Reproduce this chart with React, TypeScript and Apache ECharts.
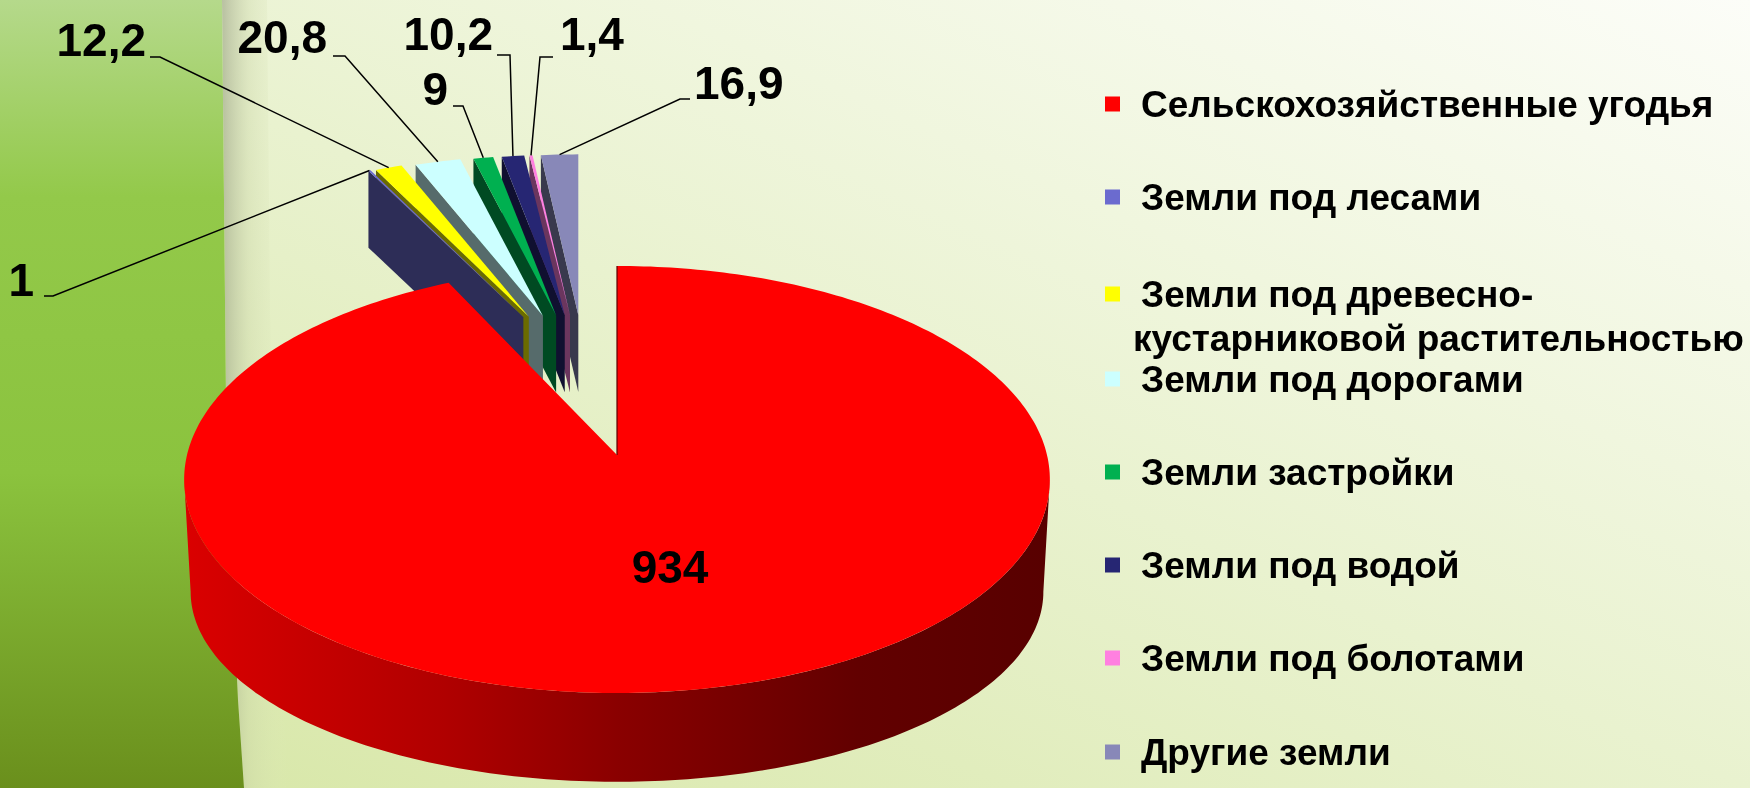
import React, { useEffect, useRef } from 'react';
import * as echarts from 'echarts';

// ---------- data ----------
const CATEGORIES = [
  'Сельскохозяйственные угодья',
  'Земли под лесами',
  'Земли под древесно-кустарниковой растительностью',
  'Земли под дорогами',
  'Земли застройки',
  'Земли под водой',
  'Земли под болотами',
  'Другие земли',
];
const VALUES = [934, 1, 12.2, 20.8, 9, 10.2, 1.4, 16.9];

// ---------- style ----------
const COLORS = ['#ff0000', '#6b6bcf', '#ffff00', '#ccffff', '#00b050', '#262673', '#ff80e0', '#8888b8'];
const FONT = '"Liberation Sans", Arial, sans-serif';

// 3D pie projection (top face ellipse with perspective)
const CX = 617;
const CY = 455;
const RX = 430;
const RY = 210.7;
const PERSP = 8.72;
// bottom rim ellipse
const CYB = 570;
const BX = 0.985;
const BY = 0.89;
// exploded small slices
const KX = 0.92;
const KY = 0.85;
const SMALL_DEPTH = 77;
const EXP = { ox: -31, oy: -119, ex: 146, ey: 21 };

// label layout: text anchor and leader hook (style only)
const LABEL_LAYOUT: any[] = [
  { x: 670, y: 567, align: 'center' },
  { x: 34, y: 280, align: 'right', hook: [[44, 296], [53, 296]] },
  { x: 146, y: 40, align: 'right', hook: [[150, 57], [160, 57]] },
  { x: 327, y: 37, align: 'right', hook: [[333, 56], [345, 56]] },
  { x: 448, y: 89, align: 'right', hook: [[453, 106], [463, 106]] },
  { x: 493, y: 34, align: 'right', hook: [[497, 55], [510, 55]] },
  { x: 560, y: 34, align: 'left', hook: [[553, 57], [540, 57]] },
  { x: 694, y: 83, align: 'left', hook: [[690, 99], [680, 99]] },
];
const LEGEND_Y = [104, 197, 294, 379, 472, 565, 658, 752];

function darken(hex: string, f: number) {
  const n = parseInt(hex.slice(1), 16);
  const r = Math.round(((n >> 16) & 255) * f);
  const g = Math.round(((n >> 8) & 255) * f);
  const b = Math.round((n & 255) * f);
  return `rgb(${r},${g},${b})`;
}

function rim(theta: number) {
  const t = (theta * Math.PI) / 180;
  const s = PERSP / (PERSP + Math.cos(t));
  return { x: RX * Math.sin(t) * s, y: -RY * Math.cos(t) * s };
}

function arc(a0: number, a1: number, map: (th: number) => number[]) {
  const pts: number[][] = [];
  const n = Math.max(2, Math.ceil(Math.abs(a1 - a0) / 1));
  for (let k = 0; k <= n; k++) pts.push(map(a0 + ((a1 - a0) * k) / n));
  return pts;
}

const TOTAL = VALUES.reduce((a, b) => a + b, 0);
const SIL = (Math.acos(-1 / PERSP) * 180) / Math.PI;

function makeRenderItem(i: number) {
  return (params: any, api: any) => {
    const before = VALUES.slice(0, i).reduce((a, b) => a + b, 0);
    const start = (before / TOTAL) * 360;
    const end = start + (api.value(0) / TOTAL) * 360;
    const mid = (start + end) / 2;
    const color = COLORS[i];
    const children: any[] = [];
    const lay = LABEL_LAYOUT[i];
    const label = String(api.value(0)).replace('.', ',');
    const textStyle = {
      text: label,
      x: lay.x,
      y: lay.y,
      fill: '#000',
      fontSize: 46,
      fontWeight: 'bold',
      fontFamily: FONT,
      align: lay.align,
      verticalAlign: 'middle',
    };

    if (i === 0) {
      const a0 = Math.max(start, SIL);
      const a1 = Math.min(end, 360 - SIL);
      const sideTop = arc(a0, a1, (th) => {
        const r = rim(th);
        return [CX + r.x, CY + r.y];
      });
      const sideBot = arc(a1, a0, (th) => {
        const r = rim(th);
        return [CX + BX * r.x, CYB + BY * r.y];
      });
      children.push({
        type: 'polygon',
        z2: 50,
        shape: { points: [...sideTop, ...sideBot] },
        style: {
          fill: {
            type: 'linear',
            x: CX - RX,
            y: 0,
            x2: CX + RX,
            y2: 0,
            global: true,
            colorStops: [
              { offset: 0, color: '#da0000' },
              { offset: 0.3, color: '#b00000' },
              { offset: 0.5, color: '#8a0000' },
              { offset: 0.78, color: '#620000' },
              { offset: 1, color: '#580000' },
            ],
          },
        },
      });
      const top = [
        [CX, CY],
        ...arc(start, end, (th) => {
          const r = rim(th);
          return [CX + r.x, CY + r.y];
        }),
        [CX, CY],
      ];
      children.push({ type: 'polygon', z2: 51, shape: { points: top }, style: { fill: color } });
      const r0 = rim(start);
      children.push({
        type: 'polyline',
        z2: 52,
        shape: { points: [[CX, CY], [CX + r0.x, CY + r0.y]] },
        style: { stroke: '#5a0000', lineWidth: 1.2, fill: null },
      });
      children.push({ type: 'text', z2: 60, style: textStyle });
    } else {
      const t = (mid * Math.PI) / 180;
      const V = [CX + EXP.ox + EXP.ex * Math.sin(t), CY + EXP.oy - EXP.ey * Math.cos(t)];
      const Q = (th: number) => {
        const r = rim(th);
        return [V[0] + KX * r.x, V[1] + KY * r.y];
      };
      const qs = Q(start);
      const order = 10 + (VALUES.length - i) * 2;
      children.push({
        type: 'polygon',
        z2: order,
        shape: { points: [V, qs, [qs[0], qs[1] + SMALL_DEPTH], [V[0], V[1] + SMALL_DEPTH]] },
        style: { fill: darken(color, 0.42) },
      });
      children.push({
        type: 'polygon',
        z2: order + 1,
        shape: { points: [V, ...arc(start, end, Q), V] },
        style: { fill: color },
      });
      const qm = Q(mid);
      children.push({
        type: 'polyline',
        z2: 60,
        shape: { points: [lay.hook[0], lay.hook[1], qm] },
        style: { stroke: '#000', lineWidth: 1.5, fill: null },
      });
      children.push({ type: 'text', z2: 60, style: textStyle });
    }
    return { type: 'group', children };
  };
}

export default function App() {
  const ref = useRef<HTMLDivElement>(null);
  useEffect(() => {
    if (!ref.current) return;
    const chart = echarts.init(ref.current, null, { renderer: 'svg' });
    const wrapName = CATEGORIES[2];
    const cut = wrapName.indexOf('-') + 1;
    const line1 = wrapName.slice(0, cut);
    const line2 = wrapName.slice(cut);
    const legendText = {
      color: '#000',
      fontSize: 37,
      fontWeight: 'bold',
      fontFamily: FONT,
      lineHeight: 40,
      padding: [0, 0, 0, 16],
    };
    const edge = [
      [222, 0], [224, 200], [226, 400], [231, 550], [238, 700], [244, 788],
    ];
    chart.setOption({
      animation: false,
      graphic: [
        {
          type: 'rect',
          z: -10,
          shape: { x: 0, y: 0, width: 1750, height: 788 },
          style: {
            fill: {
              type: 'linear',
              x: 0,
              y: 1,
              x2: 1,
              y2: 0,
              colorStops: [
                { offset: 0, color: '#d6e6a4' },
                { offset: 0.5, color: '#e9f2cf' },
                { offset: 1, color: '#fcfdf8' },
              ],
            },
          },
        },
        {
          type: 'polygon',
          z: -9,
          shape: {
            points: [
              ...edge,
              ...edge.slice().reverse().map((p) => [p[0] + 45, p[1]]),
            ],
          },
          style: {
            fill: {
              type: 'linear',
              x: 0,
              y: 0,
              x2: 1,
              y2: 0,
              colorStops: [
                { offset: 0, color: 'rgba(150,158,128,0.6)' },
                { offset: 0.4, color: 'rgba(200,210,165,0.35)' },
                { offset: 1, color: 'rgba(225,235,190,0)' },
              ],
            },
          },
        },
        {
          type: 'polygon',
          z: -8,
          shape: { points: [[0, 0], ...edge, [0, 788]] },
          style: {
            fill: {
              type: 'linear',
              x: 0,
              y: 0,
              x2: 0,
              y2: 1,
              colorStops: [
                { offset: 0, color: '#b5d98b' },
                { offset: 0.25, color: '#93c94a' },
                { offset: 0.6, color: '#8bc33e' },
                { offset: 1, color: '#6a8f1c' },
              ],
            },
          },
        },
        {
          type: 'text',
          z: 5,
          x: 1133,
          y: 338,
          style: {
            text: line2,
            fill: '#000',
            fontSize: 37,
            fontWeight: 'bold',
            fontFamily: FONT,
            verticalAlign: 'middle',
          },
        },
      ],
      legend: CATEGORIES.map((name, i) => ({
        data: [name],
        left: 1105,
        top: LEGEND_Y[i] - 20,
        orient: 'vertical',
        icon: 'rect',
        itemWidth: 15,
        itemHeight: 15,
        itemGap: 0,
        padding: 0,
        selectedMode: false,
        textStyle: legendText,
        formatter: i === 2 ? () => line1 : undefined,
      })),
      series: CATEGORIES.map((name, i) => ({
        type: 'custom',
        name,
        coordinateSystem: 'none',
        itemStyle: { color: COLORS[i] },
        data: [VALUES[i]],
        renderItem: makeRenderItem(i),
      })),
    });
    return () => chart.dispose();
  }, []);
  return (
    <div
      ref={ref}
      style={{ position: 'fixed', left: 0, top: 0, width: 1750, height: 788 }}
    />
  );
}
